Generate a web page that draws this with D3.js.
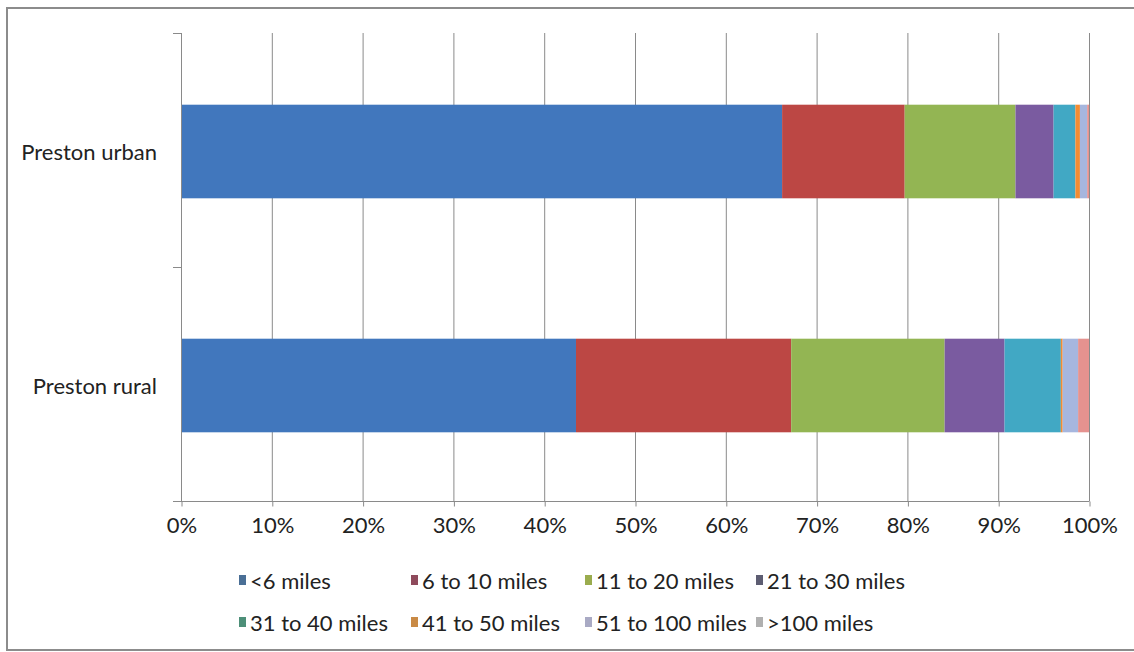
<!DOCTYPE html>
<html><head><meta charset="utf-8">
<script src="https://cdn.jsdelivr.net/npm/d3@7"></script>
<style>
html,body{margin:0;padding:0;background:#fff;}
svg{display:block;font-family:Lato,"Open Sans",sans-serif;}
</style></head>
<body>
<script>
// ---- data ----
const categories = ["Preston urban", "Preston rural"];
const seriesNames = ["<6 miles", "6 to 10 miles", "11 to 20 miles", "21 to 30 miles",
  "31 to 40 miles", "41 to 50 miles", "51 to 100 miles", ">100 miles"];
const urbanValues = [66.2, 13.5, 12.2, 4.2, 2.4, 0.5, 0.8, 0.2];
const ruralValues = [43.5, 23.7, 16.9, 6.6, 6.2, 0.2, 1.7, 1.2];
const tickValues = [0, 10, 20, 30, 40, 50, 60, 70, 80, 90, 100];
const colors = ["#4177BD", "#BC4744", "#93B553", "#7A5BA0", "#41A8C4", "#F38C32", "#A6B6DE", "#E5928F"];
const legendSwatchColors = ["#4a6f96", "#8f4a5c", "#9aac4e", "#5d5d72", "#4d8f78", "#c98a45", "#a9aac4", "#b0b0b0"];

// ---- layout ----
const W = 1134, H = 652;
const plot = {left: 181, right: 1089, top: 33, bottom: 501};
const FS = 22;

const svg = d3.select("body").append("svg").attr("width", W).attr("height", H);

// outer frame
svg.append("path").attr("d", `M${W+5},8 H7 V650 H${W+5}`)
  .attr("fill", "none").attr("stroke", "#8c8c8c").attr("stroke-width", 2);

const x = d3.scaleLinear().domain([0, 100]).range([plot.left, plot.right]);
const y = d3.scaleBand().domain(categories).range([plot.top, plot.bottom]).paddingInner(0.6).paddingOuter(0.3);

// gridlines
svg.append("g").selectAll("line").data(tickValues.slice(1)).join("line")
  .attr("x1", d => x(d) + 0.5).attr("x2", d => x(d) + 0.5)
  .attr("y1", plot.top).attr("y2", plot.bottom)
  .attr("stroke", "#8a8a8a").attr("stroke-width", 1);

// bars
const rows = categories.map((c, i) => ({cat: c, vals: i === 0 ? urbanValues : ruralValues}));
rows.forEach(r => {
  let acc = 0;
  const segs = r.vals.map((v, j) => { const s = {x0: acc, x1: acc + v, j}; acc += v; return s; });
  svg.append("g").attr("transform", "translate(0,1.5)").selectAll("rect").data(segs).join("rect")
    .attr("x", d => x(d.x0)).attr("width", d => Math.max(0, x(d.x1) - x(d.x0)))
    .attr("y", y(r.cat)).attr("height", y.bandwidth())
    .attr("fill", d => colors[d.j]);
});

// x axis
const xAxis = d3.axisBottom(x).tickValues(tickValues).tickFormat(d => d + "%").tickSize(5).tickPadding(11);
const gx = svg.append("g").attr("transform", `translate(0.5,${plot.bottom + 0.5})`).call(xAxis);
gx.select(".domain").attr("stroke", "#8a8a8a").attr("d", `M${plot.left - 8},0H${plot.right}`);
gx.selectAll(".tick line").attr("stroke", "#8a8a8a");
gx.selectAll(".tick text").attr("font-size", FS).attr("fill", "#222").attr("font-family", "Lato, sans-serif");

// y axis
const yEdges = [plot.top, (plot.top + plot.bottom) / 2, plot.bottom];
const gy = svg.append("g");
gy.append("line").attr("x1", plot.left + 0.5).attr("x2", plot.left + 0.5)
  .attr("y1", plot.top).attr("y2", plot.bottom).attr("stroke", "#8a8a8a");
gy.selectAll("line.tk").data(yEdges).join("line").attr("class", "tk")
  .attr("x1", plot.left - 8).attr("x2", plot.left)
  .attr("y1", d => d + 0.5).attr("y2", d => d + 0.5).attr("stroke", "#8a8a8a");
gy.selectAll("text").data(categories).join("text")
  .attr("x", plot.left - 24).attr("y", d => y(d) + y.bandwidth() / 2 + 1)
  .attr("text-anchor", "end").attr("dominant-baseline", "central")
  .attr("font-size", FS).attr("fill", "#222").text(d => d);

// legend
const legCols = [239, 411, 585, 756];
const legRows = [580, 622];
const leg = svg.append("g").selectAll("g").data(seriesNames).join("g")
  .attr("transform", (d, i) => `translate(${legCols[i % 4]},${legRows[Math.floor(i / 4)]})`);
leg.append("rect").attr("x", 0).attr("y", -5).attr("width", 7).attr("height", 10)
  .attr("fill", (d, i) => legendSwatchColors[i]);
leg.append("text").attr("x", 11).attr("y", 0).attr("dominant-baseline", "central")
  .attr("font-size", FS).attr("fill", "#222").text(d => d);
</script>
</body></html>
